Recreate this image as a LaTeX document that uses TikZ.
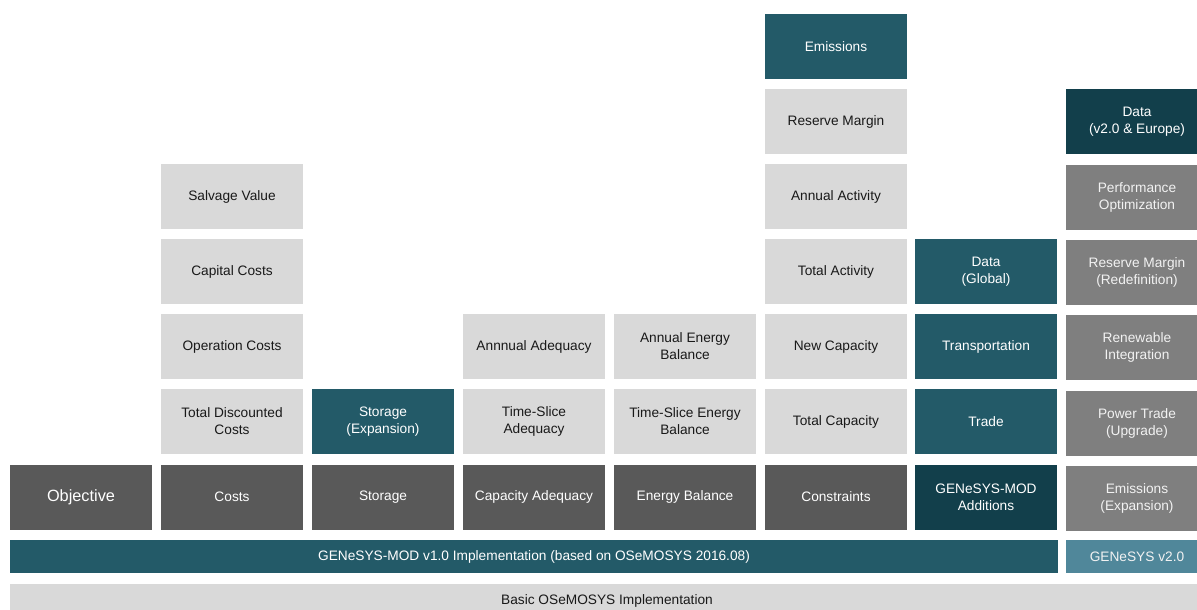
\documentclass[tikz,border=0pt]{standalone}
\usepackage{fontspec}
\setmainfont{Liberation Sans}
\definecolor{teal1}{HTML}{235A68}
\definecolor{teal2}{HTML}{123F4B}
\definecolor{teal3}{HTML}{50879A}
\definecolor{dgray}{HTML}{595959}
\definecolor{mgray}{HTML}{7F7F7F}
\definecolor{lgray}{HTML}{D9D9D9}
\tikzset{
  box/.style={rectangle, inner sep=0pt, outer sep=0pt, minimum width=142pt, minimum height=65pt,
    align=center, font=\fontsize{13.7}{17}\selectfont},
  lgbox/.style={box, fill=lgray, text=black!90},
  dgbox/.style={box, fill=dgray, text=white},
  mgbox/.style={box, fill=mgray, text=white!95!black},
  tbox/.style={box, fill=teal1, text=white},
  dtbox/.style={box, fill=teal2, text=white},
}
\begin{document}
\begin{tikzpicture}[x=1pt,y=-1pt]
\useasboundingbox (0,0) rectangle (1197,610);
% column centres: 81, 232, 383, 534, 685, 836, 986, 1137
% row centres: 46.5, 121.5, 196.5, 271.5, 346.5, 421.5, 496.5
% column 1
\node[dgbox, font=\fontsize{16.3}{19}\selectfont] (obj) at (81,497) {Objective};
% column 2
\node[dgbox] (costs) at (232,497) {Costs};
\node[lgbox] (tdc) at (232,421.5) {Total Discounted\\Costs};
\node[lgbox] (opc) at (232,346.5) {Operation Costs};
\node[lgbox] (capc) at (232,271.5) {Capital Costs};
\node[lgbox] (salv) at (232,196.5) {Salvage Value};
% column 3
\node[dgbox] (stor) at (383,497) {Storage};
\node[tbox] (storx) at (383,421.5) {Storage\\(Expansion)};
% column 4
\node[dgbox] (capad) at (534,497) {Capacity Adequacy};
\node[lgbox] (tsad) at (534,421.5) {Time-Slice\\Adequacy};
\node[lgbox] (anad) at (534,346.5) {Annnual Adequacy};
% column 5
\node[dgbox] (eb) at (685,497) {Energy Balance};
\node[lgbox] (tseb) at (685,421.5) {Time-Slice Energy\\Balance};
\node[lgbox] (aeb) at (685,346.5) {Annual Energy\\Balance};
% column 6
\node[dgbox] (cons) at (836,497) {Constraints};
\node[lgbox] (tcap) at (836,421.5) {Total Capacity};
\node[lgbox] (ncap) at (836,346.5) {New Capacity};
\node[lgbox] (tact) at (836,271.5) {Total Activity};
\node[lgbox] (aact) at (836,196.5) {Annual Activity};
\node[lgbox] (resm) at (836,121.5) {Reserve Margin};
\node[tbox] (emis) at (836,46.5) {Emissions};
% column 7
\node[dtbox] (add) at (986,497) {GENeSYS-MOD\\Additions};
\node[tbox] (trade) at (986,421.5) {Trade};
\node[tbox] (trans) at (986,346.5) {Transportation};
\node[tbox] (dglob) at (986,271.5) {Data\\(Global)};
% column 8
\node[mgbox] (emx) at (1137,498.5) {Emissions\\(Expansion)};
\node[mgbox] (ptu) at (1137,423.5) {Power Trade\\(Upgrade)};
\node[mgbox] (ren) at (1137,347.5) {Renewable\\Integration};
\node[mgbox] (rmr) at (1137,272.5) {Reserve Margin\\(Redefinition)};
\node[mgbox] (perf) at (1137,197.5) {Performance\\Optimization};
\node[dtbox] (dv2) at (1137,121.5) {Data\\(v2.0 \& Europe)};
% bottom bars
\node[tbox, minimum width=1048pt, minimum height=33pt] (gmod) at (534,556.5) {GENeSYS-MOD v1.0 Implementation (based on OSeMOSYS 2016.08)};
\node[box, fill=teal3, text=white!95!black, minimum width=142pt, minimum height=33pt] (gv2) at (1137,556.5) {GENeSYS v2.0};
\node[lgbox, minimum width=1194pt, minimum height=34pt] (basic) at (607,601) {Basic OSeMOSYS Implementation};
\end{tikzpicture}
\end{document}
